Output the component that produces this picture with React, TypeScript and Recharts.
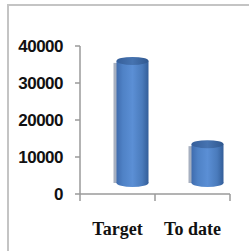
import React from 'react'
import { Bar, BarChart, XAxis, YAxis } from 'recharts'

const categories = ['Target', 'To date']
const values = [33000, 10500]
const yTicks = [0, 10000, 20000, 30000, 40000]

const data = categories.map((name, i) => ({ name, value: values[i] }))

const AXIS = '#9a9a9a'

function Cylinder(props: any) {
  const { x, y, width, height } = props
  const dx = 14.5
  const dy = -11
  const bx = x + dx
  const by = y + dy
  const ry = 4
  const cx = bx + width / 2
  return (
    <g>
      <rect x={bx - 3} y={by + 2} width={4} height={height - 2} fill="#a7b0c0" />
      <ellipse cx={cx} cy={by + height} rx={width / 2} ry={ry} fill="url(#cylBody)" />
      <rect x={bx} y={by} width={width} height={height} fill="url(#cylBody)" />
      <ellipse cx={cx} cy={by} rx={width / 2} ry={ry} fill="url(#cylTop)" />
    </g>
  )
}

function CategoryTick(props: any) {
  const { x, y, payload, index } = props
  const half = payload?.offset || 37.5
  return (
    <g>
      <line x1={x - half} y1={y} x2={x - half} y2={y + 7} stroke={AXIS} strokeWidth={1.5} />
      {index === categories.length - 1 && (
        <line x1={x + half} y1={y} x2={x + half} y2={y + 7} stroke={AXIS} strokeWidth={1.5} />
      )}
      <text
        x={x}
        y={y + 41}
        textAnchor="middle"
        fontFamily="'Liberation Serif', serif"
        fontWeight="bold"
        fontSize={18}
        fill="#111"
      >
        {payload.value}
      </text>
    </g>
  )
}

export default function App() {
  return (
    <div style={{ position: 'absolute', left: 0, top: 0, width: 249, height: 251, background: '#fff' }}>
      <div
        style={{
          position: 'absolute',
          left: 7,
          top: 4,
          width: 242,
          height: 247,
          borderLeft: '2px solid #c4c4c4',
          borderTop: '2px solid #c4c4c4',
          boxSizing: 'border-box',
        }}
      />
      <div style={{ position: 'absolute', left: 0, top: 0 }}>
        <BarChart width={249} height={251} data={data} margin={{ top: 46, right: 19, bottom: 0, left: 8 }} barCategoryGap={0}>
          <defs>
            <linearGradient id="cylBody" x1="0" y1="0" x2="1" y2="0">
              <stop offset="0%" stopColor="#3f6cae" />
              <stop offset="20%" stopColor="#4f82c6" />
              <stop offset="50%" stopColor="#5b8fd5" />
              <stop offset="80%" stopColor="#4a7bbc" />
              <stop offset="100%" stopColor="#335e99" />
            </linearGradient>
            <linearGradient id="cylTop" x1="0" y1="0" x2="1" y2="0">
              <stop offset="0%" stopColor="#365f9a" />
              <stop offset="50%" stopColor="#4673b0" />
              <stop offset="100%" stopColor="#30588f" />
            </linearGradient>
          </defs>
          <YAxis
            type="number"
            domain={[0, 40000]}
            ticks={yTicks}
            width={72}
            tickSize={5}
            tickMargin={12}
            axisLine={{ stroke: AXIS, strokeWidth: 1.5 }}
            tickLine={{ stroke: AXIS, strokeWidth: 1.5 }}
            tick={{ fill: '#111', fontSize: 17, fontWeight: 'bold', letterSpacing: -0.5, fontFamily: "'Liberation Sans', sans-serif" }}
          />
          <XAxis
            dataKey="name"
            height={57}
            tickSize={0}
            tickMargin={0}
            tickLine={false}
            axisLine={{ stroke: AXIS, strokeWidth: 1.5 }}
            tick={<CategoryTick />}
            interval={0}
          />
          <Bar dataKey="value" barSize={32} shape={<Cylinder />} isAnimationActive={false} />
        </BarChart>
      </div>
    </div>
  )
}
